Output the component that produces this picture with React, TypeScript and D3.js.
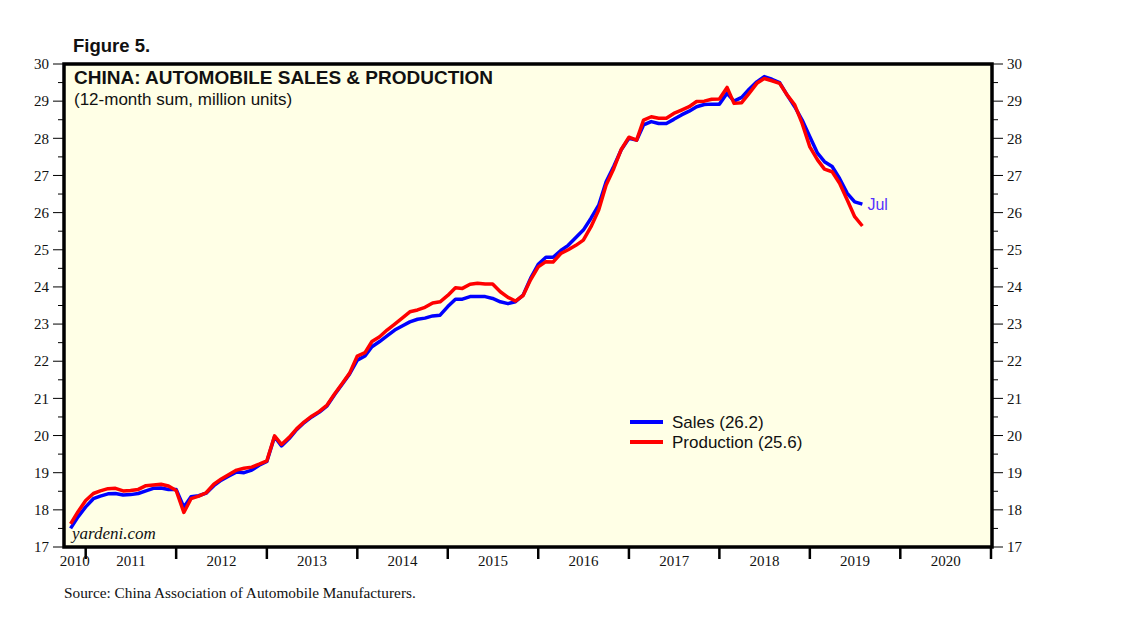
import React, { useRef, useEffect } from 'react';
import * as d3 from 'd3';

// 12-month sums, million units. First value is Oct 2010, last is Jul 2019.
const FIRST_YEAR = 2010;
const FIRST_MONTH = 9; // October, 0-based

const salesValues = [
  17.50, 17.81, 18.08, 18.30, 18.37, 18.43, 18.44, 18.40, 18.41, 18.44, 18.51, 18.58,
  18.59, 18.55, 18.55, 18.07, 18.35, 18.38, 18.45, 18.65, 18.80, 18.91, 19.02, 19.00,
  19.07, 19.20, 19.30, 19.97, 19.72, 19.92, 20.16, 20.35, 20.50, 20.63, 20.80, 21.10,
  21.38, 21.66, 22.03, 22.14, 22.39, 22.53, 22.68, 22.84, 22.95, 23.06, 23.13, 23.16,
  23.22, 23.24, 23.47, 23.67, 23.67, 23.74, 23.74, 23.74, 23.69, 23.60, 23.55, 23.60,
  23.78, 24.23, 24.61, 24.80, 24.80, 24.98, 25.12, 25.33, 25.53, 25.85, 26.20, 26.83,
  27.25, 27.69, 28.00, 27.95, 28.36, 28.45, 28.40, 28.40, 28.51, 28.63, 28.73, 28.85,
  28.91, 28.92, 28.92, 29.21, 29.00, 29.10, 29.32, 29.52, 29.66, 29.59, 29.50, 29.17,
  28.85, 28.49, 28.04, 27.60, 27.37, 27.24, 26.92, 26.52, 26.29, 26.23,
];

const productionValues = [
  17.62, 17.95, 18.25, 18.44, 18.51, 18.57, 18.58, 18.51, 18.52, 18.55, 18.65, 18.67,
  18.69, 18.64, 18.52, 17.93, 18.30, 18.37, 18.46, 18.69, 18.83, 18.95, 19.07, 19.12,
  19.15, 19.23, 19.32, 19.99, 19.76, 19.95, 20.18, 20.37, 20.52, 20.65, 20.82, 21.12,
  21.40, 21.68, 22.14, 22.23, 22.53, 22.66, 22.84, 23.00, 23.16, 23.33, 23.38, 23.45,
  23.57, 23.60, 23.77, 23.98, 23.96, 24.07, 24.10, 24.08, 24.08, 23.87, 23.72, 23.62,
  23.77, 24.19, 24.54, 24.68, 24.67, 24.90, 25.00, 25.12, 25.26, 25.62, 26.07, 26.74,
  27.19, 27.70, 28.03, 27.95, 28.49, 28.58, 28.54, 28.54, 28.67, 28.76, 28.85, 28.99,
  29.00, 29.05, 29.06, 29.37, 28.94, 28.96, 29.21, 29.48, 29.61, 29.55, 29.48, 29.17,
  28.90, 28.40, 27.77, 27.42, 27.17, 27.10, 26.79, 26.34, 25.89, 25.64,
];

const yTickValues = [17, 18, 19, 20, 21, 22, 23, 24, 25, 26, 27, 28, 29, 30];
const yearLabels = ['2010', '2011', '2012', '2013', '2014', '2015', '2016', '2017', '2018', '2019', '2020'];

const legendItems = [
  { label: 'Sales (26.2)', color: '#0000ff' },
  { label: 'Production (25.6)', color: '#ff0000' },
];

const SANS = 'Arial, "Liberation Sans", Helvetica, sans-serif';
const SERIF = '"Times New Roman", "Liberation Serif", Times, serif';

const App: React.FC = () => {
  const svgRef = useRef<SVGSVGElement>(null);

  useEffect(() => {
    if (!svgRef.current) return;
    const svg = d3.select(svgRef.current);
    svg.selectAll('*').remove();

    const plot = { left: 64, right: 992, top: 64, bottom: 547 };

    // year boundaries: Jan 2011 .. Jan 2021
    const x = d3
      .scaleTime()
      .domain([new Date(2011, 0, 1), new Date(2021, 0, 1)])
      .range([85.7, 991]);

    const y = d3.scaleLinear().domain([17, 30]).range([plot.bottom, plot.top]);

    // each monthly value is drawn at the end of its month
    const dateAt = (i: number) => new Date(FIRST_YEAR, FIRST_MONTH + i + 1, 1);

    // Plot background
    svg
      .append('rect')
      .attr('x', plot.left)
      .attr('y', plot.top)
      .attr('width', plot.right - plot.left)
      .attr('height', plot.bottom - plot.top)
      .attr('fill', '#ffffe6');

    // Figure number + titles
    svg
      .append('text')
      .attr('x', 73)
      .attr('y', 52)
      .attr('font-family', SANS)
      .attr('font-weight', 'bold')
      .attr('font-size', 18.5)
      .attr('fill', '#111')
      .text('Figure 5.');

    svg
      .append('text')
      .attr('x', 74)
      .attr('y', 84)
      .attr('font-family', SANS)
      .attr('font-weight', 'bold')
      .attr('font-size', 19)
      .attr('fill', '#111')
      .text('CHINA: AUTOMOBILE SALES & PRODUCTION');

    svg
      .append('text')
      .attr('x', 74)
      .attr('y', 105)
      .attr('font-family', SANS)
      .attr('font-size', 17)
      .attr('fill', '#111')
      .text('(12-month sum, million units)');

    // Lines
    const line = d3
      .line<number>()
      .x((_, i) => x(dateAt(i)))
      .y((d) => y(d));

    svg
      .append('path')
      .datum(salesValues)
      .attr('fill', 'none')
      .attr('stroke', '#0000ff')
      .attr('stroke-width', 3.5)
      .attr('stroke-linejoin', 'round')
      .attr('d', line);

    svg
      .append('path')
      .datum(productionValues)
      .attr('fill', 'none')
      .attr('stroke', '#ff0000')
      .attr('stroke-width', 3.5)
      .attr('stroke-linejoin', 'round')
      .attr('d', line);

    // "Jul" marker at end of sales line
    const lastIdx = salesValues.length - 1;
    svg
      .append('text')
      .attr('x', x(dateAt(lastIdx)) + 5)
      .attr('y', y(salesValues[lastIdx]) + 6)
      .attr('font-family', SANS)
      .attr('font-size', 16)
      .attr('fill', '#5533ff')
      .text('Jul');

    // Legend
    legendItems.forEach((item, i) => {
      const ly = 422 + i * 20;
      svg
        .append('line')
        .attr('x1', 630)
        .attr('x2', 663)
        .attr('y1', ly)
        .attr('y2', ly)
        .attr('stroke', item.color)
        .attr('stroke-width', 4);
      svg
        .append('text')
        .attr('x', 672)
        .attr('y', ly + 6)
        .attr('font-family', SANS)
        .attr('font-size', 17)
        .attr('fill', '#111')
        .text(item.label);
    });

    // watermark
    svg
      .append('text')
      .attr('x', 72)
      .attr('y', 539)
      .attr('font-family', SERIF)
      .attr('font-style', 'italic')
      .attr('font-size', 17)
      .attr('fill', '#111')
      .text('yardeni.com');

    // Frame
    svg
      .append('rect')
      .attr('x', plot.left)
      .attr('y', plot.top)
      .attr('width', plot.right - plot.left)
      .attr('height', plot.bottom - plot.top)
      .attr('fill', 'none')
      .attr('stroke', '#000')
      .attr('stroke-width', 3.5);

    // Y axes (both sides)
    const minorTicks = yTickValues.slice(0, -1).map((v) => v + 0.5);
    const sides = [
      { edge: plot.left, dir: -1, anchor: 'end' },
      { edge: plot.right, dir: 1, anchor: 'start' },
    ];
    sides.forEach((s) => {
      yTickValues.forEach((v) => {
        svg
          .append('line')
          .attr('x1', s.edge)
          .attr('x2', s.edge + s.dir * 11)
          .attr('y1', y(v))
          .attr('y2', y(v))
          .attr('stroke', '#000')
          .attr('stroke-width', 1);
        svg
          .append('text')
          .attr('x', s.edge + s.dir * 15)
          .attr('y', y(v))
          .attr('dy', '0.35em')
          .attr('text-anchor', s.anchor)
          .attr('font-family', SERIF)
          .attr('font-size', 15)
          .attr('fill', '#111')
          .text(v);
      });
      minorTicks.forEach((v) => {
        svg
          .append('line')
          .attr('x1', s.edge)
          .attr('x2', s.edge + s.dir * 6)
          .attr('y1', y(v))
          .attr('y2', y(v))
          .attr('stroke', '#000')
          .attr('stroke-width', 1);
      });
    });

    // X axis: year boundary ticks, labels centred in each year
    const boundaries = d3.range(2011, 2022).map((yr) => new Date(yr, 0, 1));
    boundaries.forEach((d) => {
      svg
        .append('line')
        .attr('x1', x(d))
        .attr('x2', x(d))
        .attr('y1', plot.bottom)
        .attr('y2', plot.bottom + 12)
        .attr('stroke', '#000')
        .attr('stroke-width', 2.5);
    });

    yearLabels.forEach((label) => {
      const yr = +label;
      const x0 = Math.max(plot.left, x(new Date(yr, 0, 1)));
      const x1 = x(new Date(yr + 1, 0, 1));
      svg
        .append('text')
        .attr('x', (x0 + x1) / 2)
        .attr('y', 566)
        .attr('text-anchor', 'middle')
        .attr('font-family', SERIF)
        .attr('font-size', 15)
        .attr('fill', '#111')
        .text(label);
    });

    // Source
    svg
      .append('text')
      .attr('x', 64)
      .attr('y', 598)
      .attr('font-family', SERIF)
      .attr('font-size', 15.3)
      .attr('fill', '#111')
      .text('Source: China Association of Automobile Manufacturers.');
  }, []);

  return (
    <svg
      ref={svgRef}
      width={1138}
      height={636}
      style={{ position: 'absolute', left: 0, top: 0, background: '#fff' }}
    />
  );
};

export default App;
